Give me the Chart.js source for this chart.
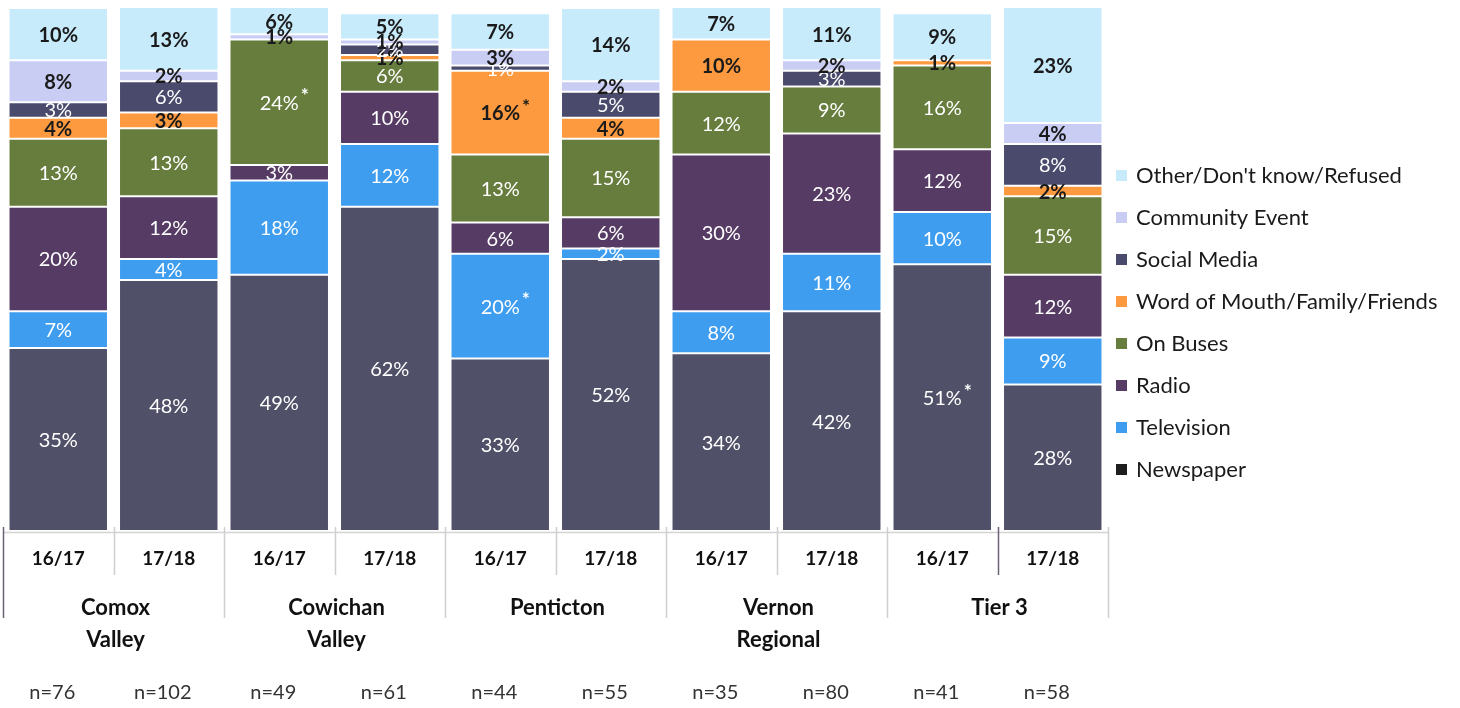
<!DOCTYPE html>
<html>
<head>
<meta charset="utf-8">
<script src="https://cdn.jsdelivr.net/npm/chart.js@4.4.1/dist/chart.umd.min.js"></script>
<style>
  html, body { margin: 0; padding: 0; background: #ffffff; }
  #wrap { width: 1460px; height: 708px; position: relative; }
</style>
</head>
<body>
<div id="wrap"><canvas id="chart" width="1460" height="708"></canvas></div>
<script>
// Survey periods, one bar each
const years = ['16/17', '17/18', '16/17', '17/18', '16/17', '17/18', '16/17', '17/18', '16/17', '17/18'];
// Transit systems, each spanning two periods
const regions = [['Comox', 'Valley'], ['Cowichan', 'Valley'], ['Penticton'], ['Vernon', 'Regional'], ['Tier 3']];
const sampleSizes = ['n=76', 'n=102', 'n=49', 'n=61', 'n=44', 'n=55', 'n=35', 'n=80', 'n=41', 'n=58'];

// Share of respondents (%) by information source, stacked bottom to top
const newspaper      = [35, 48, 49, 62, 33, 52, 34, 42, 51, 28];
const television     = [7, 4, 18, 12, 20, 2, 8, 11, 10, 9];
const radio          = [20, 12, 3, 10, 6, 6, 30, 23, 12, 12];
const onBuses        = [13, 13, 24, 6, 13, 15, 12, 9, 16, 15];
const wordOfMouth    = [4, 3, 0, 1, 16, 4, 10, 0, 1, 2];
const socialMedia    = [3, 6, 0, 2, 1, 5, 0, 3, 0, 8];
const communityEvent = [8, 2, 1, 1, 3, 2, 0, 2, 0, 4];
const otherUnknown   = [10, 13, 6, 5, 7, 14, 7, 11, 9, 23];

// Statistically significant changes: [series label, bar index]
const significant = [['On Buses', 2], ['Word of Mouth/Family/Friends', 4], ['Television', 4], ['Newspaper', 8]];

const FONT = 'Lato, "Open Sans", sans-serif';

const series = [
  { label: 'Newspaper', data: newspaper, color: '#505068', key: '#1e1e1e', text: '#ffffff', bold: false },
  { label: 'Television', data: television, color: '#3f9df0', key: '#3f9df0', text: '#ffffff', bold: false },
  { label: 'Radio', data: radio, color: '#563b64', key: '#563b64', text: '#ffffff', bold: false },
  { label: 'On Buses', data: onBuses, color: '#677d3e', key: '#677d3e', text: '#ffffff', bold: false },
  { label: 'Word of Mouth/Family/Friends', data: wordOfMouth, color: '#fd9a3f', key: '#fd9a3f', text: '#1a1a1a', bold: true },
  { label: 'Social Media', data: socialMedia, color: '#4a4b6c', key: '#4a4b6c', text: '#ffffff', bold: false },
  { label: 'Community Event', data: communityEvent, color: '#c9cdf4', key: '#c9cdf4', text: '#1a1a1a', bold: true },
  { label: "Other/Don't know/Refused", data: otherUnknown, color: '#c8ebfc', key: '#c8ebfc', text: '#1a1a1a', bold: true }
];

// Percent labels centred in each segment
const segmentLabels = {
  id: 'segmentLabels',
  afterDatasetsDraw(chart) {
    const ctx = chart.ctx;
    ctx.save();
    ctx.beginPath();
    ctx.rect(chart.chartArea.left, chart.chartArea.top - 2, chart.chartArea.right - chart.chartArea.left, chart.chartArea.bottom - chart.chartArea.top + 2);
    ctx.clip();
    chart.data.datasets.forEach((ds, di) => {
      const meta = chart.getDatasetMeta(di);
      const s = series[di];
      meta.data.forEach((bar, i) => {
        const v = ds.data[i];
        if (!v) return;
        const top = Math.max(bar.y, chart.chartArea.top);
        const cy = (top + bar.base) / 2;
        const txt = v + '%';
        ctx.font = (s.bold ? 'bold ' : '') + '20px ' + FONT;
        ctx.fillStyle = s.text;
        ctx.textAlign = 'center';
        ctx.textBaseline = 'middle';
        ctx.fillText(txt, bar.x, cy + 1);
        const star = significant.some(([lab, idx]) => lab === ds.label && idx === i);
        if (star) {
          const w = ctx.measureText(txt).width;
          ctx.font = 'bold 19px ' + FONT;
          ctx.textAlign = 'left';
          ctx.fillText('*', bar.x + w / 2 + 2, cy - 6);
        }
      });
    });
    ctx.restore();
  }
};

// Category separators, system names and sample sizes below the bars
const categoryFrame = {
  id: 'categoryFrame',
  afterDraw(chart) {
    const ctx = chart.ctx;
    const x = chart.scales.x;
    const area = chart.chartArea;
    const n = years.length;
    const step = (area.right - area.left) / n;
    ctx.save();
    // baseline
    ctx.strokeStyle = '#d4d4d4';
    ctx.lineWidth = 1.5;
    ctx.beginPath();
    ctx.moveTo(area.left, area.bottom + 1.5);
    ctx.lineTo(area.right, area.bottom + 1.5);
    ctx.stroke();
    for (let i = 0; i <= n; i++) {
      const bx = Math.round(area.left + i * step) + 0.5;
      const long = i % 2 === 0;
      ctx.strokeStyle = (i === 0 || i === 9) ? '#6a6275' : '#cfcfcf';
      ctx.lineWidth = 1.5;
      ctx.beginPath();
      ctx.moveTo(bx, area.bottom - 4);
      ctx.lineTo(bx, long ? 618 : 575);
      ctx.stroke();
    }
    // system names
    ctx.fillStyle = '#111111';
    ctx.font = 'bold 22px ' + FONT;
    ctx.textAlign = 'center';
    ctx.textBaseline = 'middle';
    regions.forEach((lines, r) => {
      const cx = (x.getPixelForValue(2 * r) + x.getPixelForValue(2 * r + 1)) / 2 + 2;
      lines.forEach((ln, k) => ctx.fillText(ln, cx, 608 + k * 32));
    });
    // sample sizes
    ctx.fillStyle = '#333333';
    ctx.font = '20px ' + FONT;
    sampleSizes.forEach((s, i) => ctx.fillText(s, x.getPixelForValue(i) - 6, 693));
    ctx.restore();
  }
};

// Legend on the right, top entry matches the top of the stack
const sideLegend = {
  id: 'sideLegend',
  afterDraw(chart) {
    const ctx = chart.ctx;
    ctx.save();
    ctx.font = '22px ' + FONT;
    ctx.textBaseline = 'middle';
    ctx.textAlign = 'left';
    const items = series.slice().reverse();
    items.forEach((s, k) => {
      const y = 175 + k * 42;
      ctx.fillStyle = s.key;
      ctx.fillRect(1116, y - 5, 11, 11);
      ctx.fillStyle = '#1a1a1a';
      ctx.fillText(s.label, 1136, y + 1);
    });
    ctx.restore();
  }
};

new Chart(document.getElementById('chart'), {
  type: 'bar',
  data: {
    labels: years,
    datasets: series.map(s => ({
      label: s.label,
      data: s.data,
      backgroundColor: s.color,
      borderColor: '#ffffff',
      borderWidth: 1,
      borderSkipped: false,
      barPercentage: 0.9,
      categoryPercentage: 1.0
    }))
  },
  options: {
    responsive: false,
    animation: false,
    layout: { padding: { left: 3, right: 352, top: 8, bottom: 0 } },
    plugins: {
      legend: { display: false },
      tooltip: { enabled: false }
    },
    scales: {
      x: {
        stacked: true,
        grid: { display: false, drawTicks: false },
        border: { display: false },
        ticks: {
          color: '#111111',
          font: { family: FONT, size: 19, weight: 'bold' },
          padding: 16,
          maxRotation: 0,
          autoSkip: false
        },
        afterFit(scale) { scale.height = 177; }
      },
      y: {
        stacked: true,
        display: false,
        min: 0,
        max: 100
      }
    }
  },
  plugins: [segmentLabels, categoryFrame, sideLegend]
});
</script>
</body>
</html>
